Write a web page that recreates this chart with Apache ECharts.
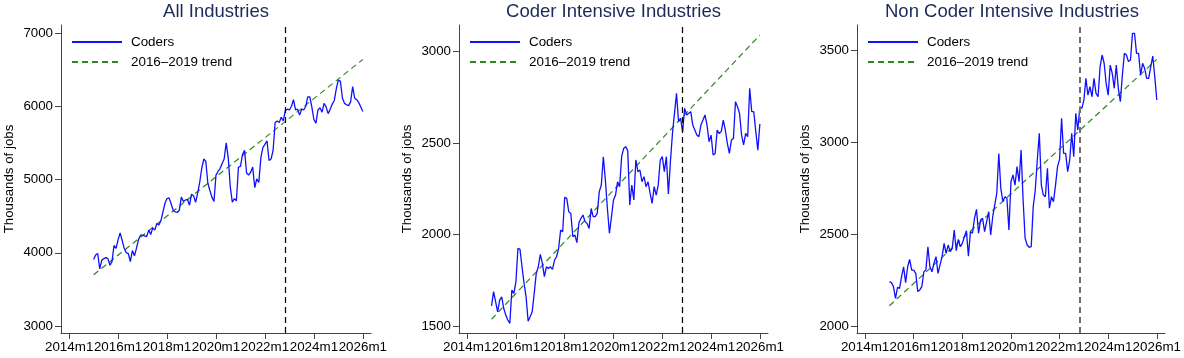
<!DOCTYPE html>
<html><head><meta charset="utf-8">
<script src="https://cdn.jsdelivr.net/npm/echarts@6/dist/echarts.min.js"></script>
<style>html,body{margin:0;padding:0;background:#fff}#c{width:1184px;height:358px}</style>
</head><body><div id="c"></div>
<script>
// x values are months since 2014m1; series start at 2015m1
const startMonth = 12;
const breakMonth = 106; // 2022m11
const xTickValues = [0, 24, 48, 72, 96, 120, 144];
const xTickLabels = ['2014m1', '2016m1', '2018m1', '2020m1', '2022m1', '2024m1', '2026m1'];
const titles = ['All Industries', 'Coder Intensive Industries', 'Non Coder Intensive Industries'];
const legendNames = ['Coders', '2016\u20132019 trend'];
const yAxisName = 'Thousands of jobs';

const allIndustries = [
 3909,3970,3990,3780,3900,3920,3935,3920,3830,3880,4100,4060,4180,4270,4170,4060,4000,3990,3880,4030,
 3960,4060,4180,4240,4240,4230,4220,4310,4250,4340,4310,4400,4380,4440,4560,4680,4740,4750,4670,4580,
 4560,4550,4580,4760,4700,4720,4730,4650,4800,4780,4690,4810,4960,5150,5280,5250,4950,4850,4760,4700,
 5060,5110,5150,5220,5280,5500,5300,4900,4690,4740,4710,5170,5180,5340,5400,5090,5060,5100,5170,4890,
 5010,4960,5300,5440,5480,5530,5260,5280,5400,5780,5800,5780,5850,5800,5940,5960,5950,6000,6090,5950,
 5960,5880,5960,5950,6000,6130,6130,5990,5820,5770,5950,5980,5920,6040,5990,5900,5960,6030,6080,6240,
 6360,6340,6110,6040,6020,6010,6060,6270,6110,6090,6050,5990,5930
];
const coderIntensive = [
 1610,1688,1633,1578,1642,1660,1597,1560,1533,1515,1697,1679,1742,1925,1919,1824,1733,1660,1527,1551,
 1578,1679,1788,1824,1892,1843,1770,1824,1815,1824,1810,1861,1879,1925,2025,2016,2204,2198,2125,2116,
 1988,1998,1956,2065,2089,2107,2071,2061,2034,2143,2098,2098,2116,2235,2271,2426,2298,2143,2007,2098,
 2189,2216,2289,2262,2426,2471,2481,2459,2162,2271,2189,2408,2344,2353,2289,2317,2262,2289,2225,2171,
 2262,2216,2271,2408,2426,2344,2426,2222,2399,2553,2663,2772,2617,2636,2563,2690,2654,2663,2672,2599,
 2572,2544,2535,2599,2626,2654,2599,2508,2544,2435,2444,2572,2553,2563,2626,2572,2499,2444,2517,2526,
 2727,2699,2663,2544,2490,2553,2535,2800,2672,2672,2563,2462,2605
];
const nonCoderIntensive = [
 2241,2236,2214,2150,2210,2205,2268,2322,2236,2322,2362,2304,2304,2286,2187,2196,2214,2295,2304,2431,
 2322,2295,2341,2377,2286,2332,2377,2449,2395,2440,2404,2422,2522,2409,2471,2431,2449,2486,2518,2380,
 2513,2504,2585,2634,2504,2576,2585,2513,2567,2621,2495,2594,2658,2721,2938,2748,2676,2703,2694,2522,
 2784,2821,2766,2866,2784,2957,2685,2476,2440,2428,2431,2649,2739,2902,3047,2766,2712,2703,2857,2640,
 2703,2676,2766,2866,2906,3129,2938,2938,2839,2902,3047,2920,3156,3065,3192,3183,3228,3346,3255,3301,
 3246,3346,3264,3246,3409,3473,3428,3319,3255,3418,3373,3292,3418,3292,3219,3364,3482,3473,3437,3446,
 3591,3591,3482,3482,3364,3428,3400,3346,3346,3409,3467,3355,3228
];
// trend line end points (first and last month)
const trendAll = [3700, 6640];
const trendCoder = [1537, 3091];
const trendNonCoder = [2110, 3449];

const yTicksAll = [3000, 4000, 5000, 6000, 7000];
const yTicksCoder = [1500, 2000, 2500, 3000];
const yTicksNonCoder = [2000, 2500, 3000, 3500];
const yRanges = [[2905, 7110], [1462, 3146], [1962, 3636]];

const panels = [
  {vals: allIndustries, trend: trendAll, ticks: yTicksAll, left: 61, width: 310, vcol: '#000', vw: 1.2},
  {vals: coderIntensive, trend: trendCoder, ticks: yTicksCoder, left: 459, width: 309, vcol: '#000', vw: 1.2},
  {vals: nonCoderIntensive, trend: trendNonCoder, ticks: yTicksNonCoder, left: 857, width: 310, vcol: '#6e6e6e', vw: 2}
];

const FONT = '"Liberation Sans", Arial, Helvetica, sans-serif';
const axisCol = '#444';
const option = {
  animation: false,
  backgroundColor: '#fff',
  textStyle: {fontFamily: FONT},
  title: [], grid: [], xAxis: [], yAxis: [], series: [], legend: []
};

panels.forEach((p, i) => {
  option.grid.push({left: p.left, width: p.width, top: 25, height: 308, containLabel: false});
  option.title.push({
    text: titles[i], left: p.left + p.width / 2, top: 2, textAlign: 'center', padding: 0,
    textStyle: {color: '#1b2a58', fontSize: 18.5, fontWeight: 'normal', fontFamily: FONT}
  });
  option.xAxis.push({
    type: 'value', gridIndex: i, min: -4, max: 148,
    axisLine: {show: true, onZero: false, lineStyle: {color: axisCol, width: 1}},
    axisTick: {show: true, length: 6, customValues: xTickValues, lineStyle: {color: axisCol}},
    axisLabel: {customValues: xTickValues, margin: 8, color: '#000', fontSize: 13.4, fontFamily: FONT,
      formatter: v => xTickLabels[xTickValues.indexOf(v)] || ''},
    splitLine: {show: false}
  });
  option.yAxis.push({
    type: 'value', gridIndex: i, min: yRanges[i][0], max: yRanges[i][1],
    name: yAxisName, nameLocation: 'middle', nameRotate: 90, nameGap: 45,
    nameTextStyle: {color: '#000', fontSize: 13.3, fontFamily: FONT},
    axisLine: {show: true, onZero: false, lineStyle: {color: axisCol, width: 1}},
    axisTick: {show: true, length: 6, customValues: p.ticks, lineStyle: {color: axisCol}},
    axisLabel: {customValues: p.ticks, margin: 8, color: '#000', fontSize: 13.3, fontFamily: FONT,
      formatter: v => String(v)},
    splitLine: {show: false}
  });
  const lastMonth = startMonth + p.vals.length - 1;
  option.series.push({
    type: 'line', name: legendNames[0], xAxisIndex: i, yAxisIndex: i,
    data: p.vals.map((v, k) => [startMonth + k, v]),
    showSymbol: false, symbol: 'none', z: 3,
    lineStyle: {color: '#1010ff', width: 1.3},
    itemStyle: {color: '#1010ff'},
    markLine: {
      silent: true, symbol: 'none', label: {show: false},
      lineStyle: {color: p.vcol, width: p.vw, type: [6, 4]},
      data: [{xAxis: breakMonth}]
    }
  });
  option.series.push({
    type: 'line', name: legendNames[1], xAxisIndex: i, yAxisIndex: i,
    data: [[startMonth, p.trend[0]], [lastMonth, p.trend[1]]],
    showSymbol: false, symbol: 'none', z: 2,
    lineStyle: {color: '#2a8a1e', width: 1.2, type: [6, 4]},
    itemStyle: {color: '#2a8a1e'}
  });
  option.legend.push({
    left: p.left + 10, top: 35, orient: 'vertical', padding: 0,
    itemWidth: 50, itemHeight: 14, itemGap: 6,
    data: legendNames.map(n => ({name: n})),
    itemStyle: {opacity: 0},
    textStyle: {color: '#000', fontSize: 13.4, fontFamily: FONT, lineHeight: 14, padding: [0, 0, 0, 4]},
    selectedMode: false
  });
});

const chart = echarts.init(document.getElementById('c'), null, {renderer: 'canvas'});
chart.setOption(option);
</script>
</body></html>
